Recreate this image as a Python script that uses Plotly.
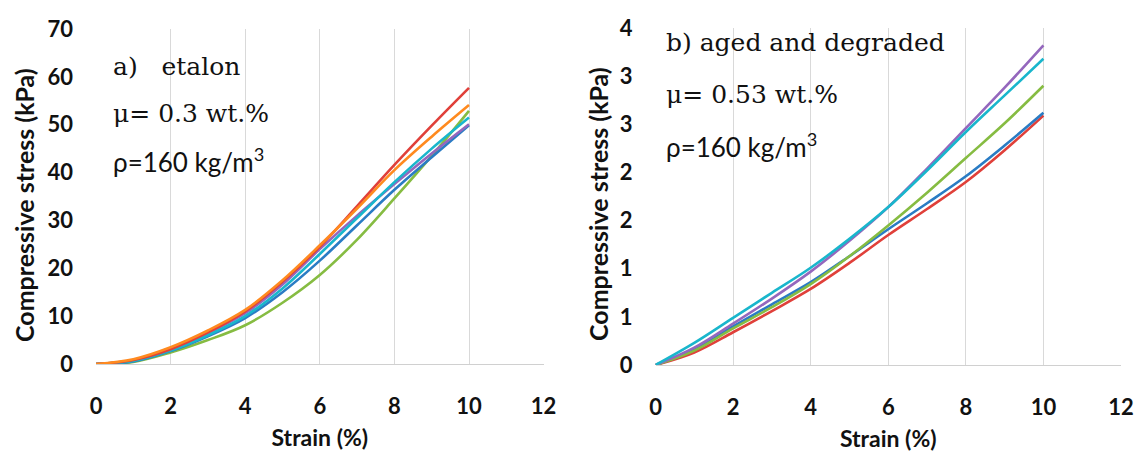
import plotly.graph_objects as go

# ---------------- data ----------------
strain = [0, 1, 2, 3, 4, 5, 6, 7, 8, 9, 10]

# a) etalon (kPa)
a_blue   = [0, 0.55, 2.7, 5.8, 9.6, 15.0, 21.6, 29.0, 36.4, 43.2, 49.9]
a_orange = [0, 1.0, 3.5, 7.0, 11.3, 17.5, 24.8, 32.5, 40.5, 47.5, 54.1]
a_red    = [0, 0.85, 3.1, 6.6, 11.0, 17.2, 24.5, 33.0, 41.6, 49.8, 57.7]
a_green  = [0, 0.45, 2.4, 5.0, 8.1, 12.8, 18.6, 26.0, 34.6, 43.5, 52.9]
a_purple = [0, 0.75, 3.0, 6.4, 10.6, 16.6, 24.0, 31.0, 37.6, 44.0, 50.1]
a_cyan   = [0, 0.65, 2.8, 6.0, 10.0, 15.8, 23.0, 30.5, 38.0, 45.0, 51.5]

# b) aged and degraded (kPa)
b_blue   = [0, 0.16, 0.40, 0.63, 0.86, 1.13, 1.41, 1.68, 1.96, 2.28, 2.62]
b_red    = [0, 0.13, 0.34, 0.56, 0.79, 1.06, 1.35, 1.62, 1.90, 2.23, 2.59]
b_green  = [0, 0.15, 0.38, 0.60, 0.84, 1.13, 1.45, 1.79, 2.15, 2.51, 2.90]
b_purple = [0, 0.18, 0.43, 0.69, 0.97, 1.29, 1.64, 2.04, 2.46, 2.88, 3.32]
b_cyan   = [0, 0.23, 0.49, 0.75, 1.01, 1.31, 1.64, 2.02, 2.42, 2.80, 3.18]

x_ticks = [0, 2, 4, 6, 8, 10, 12]
a_yticks = [0, 10, 20, 30, 40, 50, 60, 70]
b_yticks = [0, 0.5, 1.0, 1.5, 2.0, 2.5, 3.0, 3.5]
b_yticktext = ["0", "1", "1", "2", "2", "3", "3", "4"]

BLUE, ORANGE, RED = "#2a7cc4", "#ff8a1f", "#e0403a"
GREEN, PURPLE, CYAN = "#86bc42", "#9467bd", "#19b6cc"

fig = go.Figure()

def add(xa, ya, vals, color):
    fig.add_trace(go.Scatter(x=strain, y=vals, mode="lines",
                             line=dict(color=color, width=2.6, shape="spline", smoothing=1.0),
                             xaxis=xa, yaxis=ya, showlegend=False))

for vals, col in [(a_green, GREEN), (a_blue, BLUE), (a_purple, PURPLE),
                  (a_cyan, CYAN), (a_red, RED), (a_orange, ORANGE)]:
    add("x", "y", vals, col)
for vals, col in [(b_red, RED), (b_blue, BLUE), (b_green, GREEN),
                  (b_purple, PURPLE), (b_cyan, CYAN)]:
    add("x2", "y2", vals, col)

tickfont = dict(family="Lato", size=22, color="#111111", weight="bold")
titlefont = dict(family="Lato", size=23, color="#111111", weight="bold")
ytitlefont = dict(family="Lato", size=25, color="#111111", weight="bold")

common_x = dict(range=[0, 12], tickvals=x_ticks, showgrid=True, gridcolor="#d9d9d9",
                gridwidth=1.3, zeroline=False, showline=True, linecolor="#d0d0d0",
                linewidth=1.3, ticks="", tickfont=tickfont, ticklabelstandoff=22,
                automargin=False,
                title=dict(text="Strain (%)", font=titlefont, standoff=12))
common_y = dict(showgrid=False, zeroline=False, showline=False, ticks="",
                tickfont=tickfont, ticklabelstandoff=22, automargin=False)

fig.update_layout(
    width=1135, height=452,
    margin=dict(l=0, r=0, t=0, b=0, autoexpand=False),
    paper_bgcolor="white", plot_bgcolor="white",
    xaxis=dict(domain=[96 / 1135, 543.6 / 1135], anchor="y", **common_x),
    yaxis=dict(domain=[1 - 364 / 452, 1 - 29 / 452], anchor="x", range=[0, 70],
               tickvals=a_yticks, **common_y),
    xaxis2=dict(domain=[655.5 / 1135, 1121 / 1135], anchor="y2", **common_x),
    yaxis2=dict(domain=[1 - 365 / 452, 1 - 28 / 452], anchor="x2", range=[0, 3.5],
                tickvals=b_yticks, ticktext=b_yticktext, **common_y),
)

serif = dict(family="DejaVu Serif", size=25, color="#111111")
sans = dict(family="Lato", size=26, color="#111111")

def note(x, y, text, font, angle=0, xanchor="left"):
    fig.add_annotation(x=x / 1135, y=1 - y / 452, xref="paper", yref="paper",
                       text=text, showarrow=False, xanchor=xanchor, yanchor="middle",
                       font=font, textangle=angle)

# axis titles for the stress axes
note(24, 205, "Compressive stress (kPa)", ytitlefont, angle=-90, xanchor="center")
note(598, 204, "Compressive stress (kPa)", ytitlefont, angle=-90, xanchor="center")

note(111, 66, "a)&nbsp;&nbsp; etalon", serif)
note(111, 113, "μ= 0.3 wt.%", serif)
note(111, 161, "ρ=160 kg/m<sup>3</sup>", sans)
note(664, 43, "b) aged and degraded", serif)
note(664, 94, "μ= 0.53 wt.%", serif)
note(664, 145, "ρ=160 kg/m<sup>3</sup>", sans)

fig.write_html("out.html", config={"displayModeBar": False},
               post_script="document.body.style.margin='0px';document.body.style.overflow='hidden';")
